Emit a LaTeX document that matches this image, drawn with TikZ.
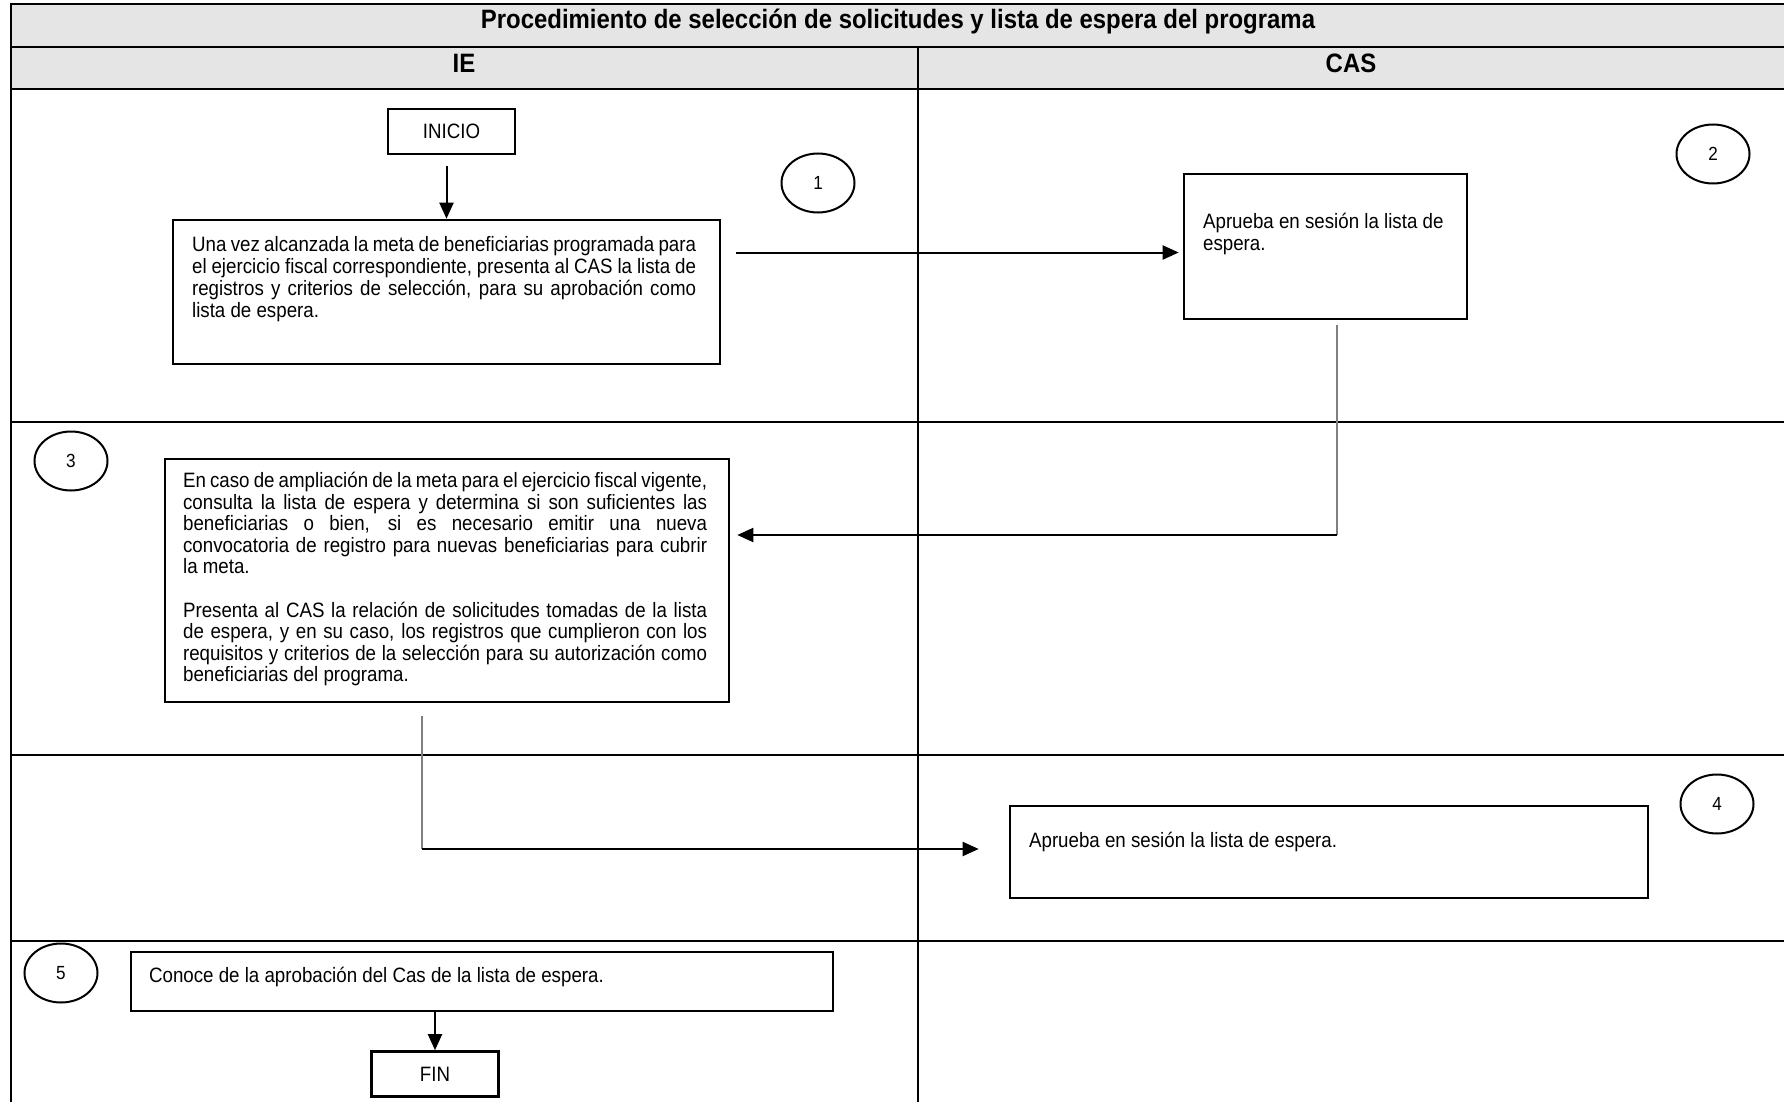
\documentclass[tikz,border=0pt]{standalone}
\usepackage{fontspec}
\setmainfont{Liberation Sans}[FakeStretch=0.9]
\usetikzlibrary{arrows.meta,positioning,shapes.geometric,calc}

\begin{document}
\begin{tikzpicture}[
      x=0.5pt, y=-0.5pt,
      grid/.style={line width=0.6pt},
      band/.style={fill=gray!20},
      head/.style={font=\bfseries\fontsize{13.3}{15}\selectfont},
      stepbox/.style={draw,line width=1.3pt,inner sep=0pt},
      steptext/.style={anchor=north west,inner sep=0pt,align=justify,font=\fontsize{10.4}{11}\selectfont},
      endbox/.style={draw,line width=1.3pt,minimum width=63.5pt,minimum height=22.5pt,font=\fontsize{10.4}{12}\selectfont},
      stepnum/.style={draw,ellipse,line width=1pt,minimum width=36.5pt,minimum height=29.5pt,inner sep=0pt,font=\fontsize{9.5}{10}\selectfont},
      flow/.style={-{Triangle[length=8pt,width=7pt]},line width=1pt},
      link/.style={gray,line width=0.6pt},
    ]
    \useasboundingbox (0,0) rectangle (1784,1102);
    \fill[band] (11,4) rectangle (1784,89);
    \draw[grid] (1784,4) -- (11,4) -- (11,1102);
    \foreach \y in {47,89,422,755,941} {
      \draw[grid] (11,\y) -- (1784,\y);
    }
    \draw[grid] (918,47) -- (918,1102);
    \node[head] (title) at (898,22) {Procedimiento de selección de solicitudes y lista de espera del programa};
    \node[head] (ie) at (464,63) {IE};
    \node[head] (cas) at (1351,63) {CAS};

    \node[endbox] (inicio) at (451.5,131.5) {INICIO};
    \node[stepbox,minimum width=273.5pt,minimum height=72pt] (t1) at (446.5,292) {};
    \node[steptext,text width=252pt] (t1txt) at ([shift={(20,17)}]t1.north west)
      {Una vez alcanzada la meta de beneficiarias programada para\linebreak
       el ejercicio fiscal correspondiente, presenta al CAS la lista de\linebreak
       registros y criterios de selección, para su aprobación como\linebreak
       lista de espera.};
    \node[stepbox,minimum width=141.5pt,minimum height=72.5pt] (t2) at (1325.5,246.5) {};
    \node[steptext,align=left] (t2txt) at ([shift={(20,40)}]t2.north west)
      {Aprueba en sesión la lista de\\espera.};
    \node[stepbox,minimum width=282pt,minimum height=121.5pt] (t3) at (447,580.5) {};
    \node[steptext,text width=262pt,font=\fontsize{10.4}{10.8}\selectfont] (t3txt) at ([shift={(19,14)}]t3.north west)
      {En caso de ampliación de la meta para el ejercicio fiscal vigente,\linebreak
       consulta la lista de espera y determina si son suficientes las\linebreak
       beneficiarias o bien, si es necesario emitir una nueva\linebreak
       convocatoria de registro para nuevas beneficiarias para cubrir\linebreak
       la meta.\par\vspace{10.8pt}
       Presenta al CAS la relación de solicitudes tomadas de la lista\linebreak
       de espera, y en su caso, los registros que cumplieron con los\linebreak
       requisitos y criterios de la selección para su autorización como\linebreak
       beneficiarias del programa.};
    \node[stepbox,minimum width=319pt,minimum height=46pt] (t4) at (1329,852) {};
    \node[steptext,align=left] (t4txt) at ([shift={(20,27)}]t4.north west)
      {Aprueba en sesión la lista de espera.};
    \node[stepbox,minimum width=351pt,minimum height=29.5pt] (t5) at (482,981.5) {};
    \node[steptext,align=left] (t5txt) at ([shift={(19,16)}]t5.north west)
      {Conoce de la aprobación del Cas de la lista de espera.};
    \node[endbox] (fin) at (435,1074) {FIN};

    \foreach \n/\x/\y in {1/818/183,2/1713/154,3/71/461,4/1717/804,5/61/973} {
      \node[stepnum] (n\n) at (\x,\y) {\n};
    }

    \coordinate (in2) at ([yshift=-3pt]t2.west);
    \coordinate (turn23) at (1337,535);
    \coordinate (turn34) at (422,849);
    \draw[flow,shorten <=5.5pt] (inicio.south -| t1.north) -- (t1.north);
    \draw[flow,shorten <=7.5pt,shorten >=2pt] (t1.east |- in2) -- (in2);
    \draw[link,shorten <=2.5pt] (t2.south -| turn23) -- (turn23);
    \draw[flow,shorten >=3.5pt] (turn23) -- (turn23 -| t3.east);
    \draw[link,shorten <=6.5pt] (t3.south -| turn34) -- (turn34);
    \draw[flow,shorten >=15pt] (turn34) -- (turn34 -| t4.west);
    \draw[flow] (t5.south -| fin.north) -- (fin.north);
  \end{tikzpicture}
\end{document}
